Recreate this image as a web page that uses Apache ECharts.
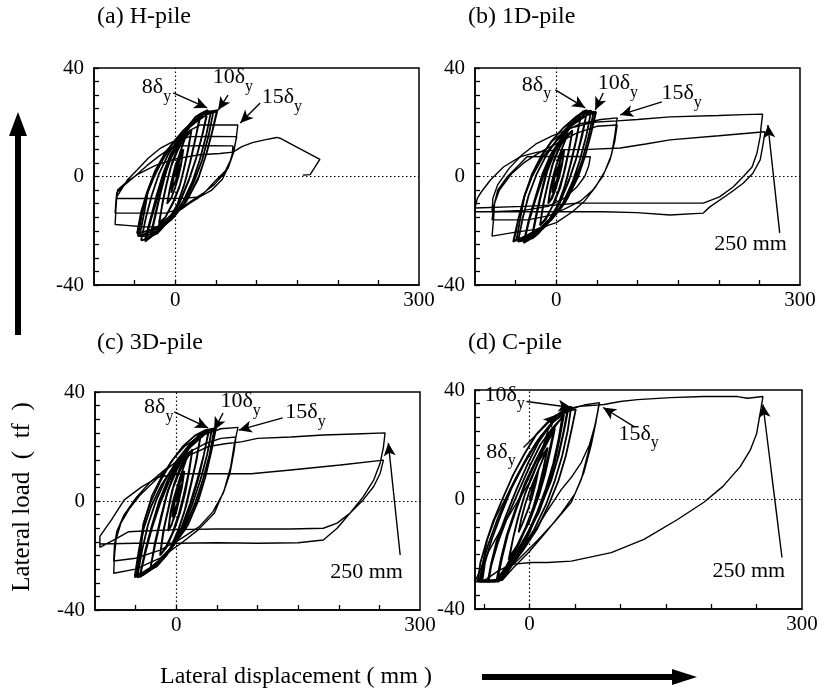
<!DOCTYPE html>
<html>
<head>
<meta charset="utf-8">
<title>Lateral load - lateral displacement</title>
<script src="https://cdn.jsdelivr.net/npm/echarts@6/dist/echarts.min.js"></script>
<style>
  html, body { margin: 0; padding: 0; background: #fff; }
  #chart { width: 823px; height: 695px; }
</style>
</head>
<body>
<div id="chart"></div>
<script>
// ---- tick labels ----
var yTickValues = [-40, -35, -30, -25, -20, -15, -10, -5, 0, 5, 10, 15, 20, 25, 30, 35, 40];
var yLabelValues = [-40, 0, 40];
var xTickValues = [-50, 0, 50, 100, 150, 200, 250];
var xLabelValues = [0, 300];
var panelTitles = ['(a) H-pile', '(b) 1D-pile', '(c) 3D-pile', '(d) C-pile'];
var xMins = [-100, -100, -100, -60];

// ---- (a) H-pile : [displacement mm, load tf] ----
var hSmall = [[0,0],[3,4],[5,6],[3,2],[1,-1],[-3,-4],[-5,-6],[-3,-2],[-1,1],[3,4],[5,6],
  [8,9],[10,10],[7,5],[4,1],[0,-4],[-5,-8],[-10,-10],[-7,-5],[-4,-1],[0,4],[5,8],[10,10],[7,4],[4,0],[0,-4],[-5,-8],[-10,-10],[-7,-5],[-4,-1],[0,3],
  [6,9],[12,14],[20,17],[16,10],[11,3],[6,-3],[-2,-9],[-12,-15],[-20,-18],[-16,-10],[-11,-3],[-6,3],[2,9],[12,15],[20,17],[15,9],[10,2],[5,-4],[-3,-10],[-12,-15],[-20,-17],[-15,-9],[-10,-2],
  [-4,5],[6,13],[18,19],[30,22],[25,14],[19,6],[12,-2],[3,-10],[-10,-17],[-22,-21],[-30,-22],[-24,-14],[-18,-6],[-11,2],[-3,9],[8,15],[20,20],[30,21],[24,13],[18,5],[11,-3],[2,-11],[-10,-17],[-22,-20],[-30,-21],[-23,-12],[-17,-4]];
var hMid = [[-17,-4],[-10,4],[0,10],[12,17],[25,22],[33,23.5],[40,24.5],[33,15],[25,6],[16,-2],[5,-10],[-10,-17],[-25,-21],[-37,-24],[-30,-16],[-22,-8],[-14,0],[-5,7],[8,14],[22,20],[32,23],[40,24],[34,16],[26,7],[17,-1],[6,-9],[-8,-16],[-24,-21],[-37,-23],[-30,-15],[-23,-7],[-15,1],
  [-6,8],[6,14],[20,19],[35,23],[45,24],[52,24.5],[46,17],[39,9],[29,0],[16,-8],[0,-14],[-18,-18],[-33,-20],[-47,-21],[-42,-13],[-35,-6],[-25,2],[-12,9],[5,15],[25,20],[40,23],[51,24],[45,16],[38,8],[28,-1],[14,-9],[-2,-15],[-20,-19],[-35,-21],[-46,-22],[-41,-14],[-34,-6]];
var hMid2 = [[-34,-6],[-26,0],[-16,6],[-4,12],[10,17],[24,21],[36,23.5],[44,24],[38,15],[30,6],[21,-2],[10,-9],[-4,-15],[-20,-20],[-33,-23],[-42,-23.5],[-36,-15],[-29,-7],[-20,1],[-9,8],[4,14],[18,19],[30,22.5],[38,24],[47,24],[41,15],[33,6],[23,-2],[11,-10],[-5,-16],[-22,-20],[-36,-22],[-44,-22],[-38,-13],[-34,-6]];
var hLarge = [[-34,-6],[-25,1],[-12,8],[0,12],[18,17],[31,19],[55,19],[77,19],[75,14],[72,9],[65,3],[59,1.3],[48,-2],[39,-5],[28,-8],[18,-9.8],[8,-12],[-2.5,-13.5],[-12,-16],[-22,-18.6],[-40,-18.5],[-60,-18],[-74,-17.7],[-73,-12],[-72,-7.5],[-70,-7.4],[-59,-1.3],[-47,2.4],[-33,6.8],[-18,10.5],[-4,12.7],[10,14],[18,14.7],[45,14.8],[75.7,14.7],[73,11],[68,6],[60,1],[48,-3],[35,-6],[20,-9],[5,-12],[-12,-13.5],[-40,-13.5],[-74,-13.5],[-73,-9],[-72,-6],[-62,-3],[-50,0],[-35,4],[-20,7.5],[-8,10],[2.5,11.3],[35,11.4],[71,11.3],[70,8],[66,4],[58,-1],[45,-5],[30,-7.5],[10,-8],[-22,-8.1],[-50,-8.1],[-72,-8.1],[-71,-5],[-60,-2],[-45,1],[-25,4],[0,6.5],[30,8],[55,8.5],[71,9]];
var hFinal = [[71,9],[82,11],[95,12.5],[110,13.5],[125,14.4],[130,14],[178,6.3],[166,0.7],[157,0.5]];

// ---- (b) 1D-pile ----
var oneSmall = [[0,0],[3,4],[5,6],[3,2],[1,-1],[-3,-4],[-5,-6],[-3,-2],[-1,1],[3,4],[6,7],[10,10],[7,5],[4,1],[0,-4],[-5,-8],[-10,-10],[-7,-5],[-4,-1],[0,4],[5,8],[10,10],[7,4],[3,-1],[-2,-5],[-6,-8],[-10,-10],[-7,-4],[-3,1],
  [4,8],[12,14],[20,17],[16,10],[11,3],[5,-4],[-3,-10],[-12,-15],[-20,-18],[-16,-10],[-10,-2],[-5,4],[3,10],[12,15],[20,17],[15,9],[9,1],[3,-5],[-5,-11],[-13,-16],[-20,-18],[-15,-9],[-9,-1],
  [-3,6],[7,13],[18,19],[30,22],[25,14],[19,6],[12,-2],[2,-11],[-10,-17],[-22,-21],[-30,-23],[-24,-14],[-18,-6],[-11,2],[-2,9],[9,15],[21,20],[30,22],[24,13],[17,4],[10,-4],[0,-12],[-12,-18],[-23,-21],[-30,-22],[-24,-13],[-17,-4]];
var oneMid = [[-17,-4],[-10,4],[0,11],[12,17],[25,22],[33,24],[38,24.5],[32,15],[24,6],[15,-2],[4,-10],[-10,-17],[-26,-22],[-40,-24.5],[-33,-16],[-25,-8],[-16,0],[-6,7],[7,14],[21,20],[31,23],[38,24],[32,16],[25,7],[16,-1],[5,-9],[-9,-16],[-25,-21],[-40,-24],[-33,-15],[-25,-7],[-17,1],
  [-7,8],[6,14],[20,19],[35,23],[44,23.8],[49,23.8],[43,16],[36,8],[27,0],[14,-8],[-2,-14],[-20,-19],[-38,-22],[-53,-24],[-47,-16],[-40,-8],[-30,0],[-17,7],[0,13],[20,19],[37,22.5],[48,23.5],[42,15],[35,7],[25,-1],[12,-9],[-4,-15],[-22,-20],[-40,-23],[-52,-23.5],[-46,-15],[-39,-7]];
var oneMid2 = [[-39,-7],[-30,0],[-19,7],[-6,13],[9,18],[24,22],[36,24],[43,24.3],[37,15],[29,6],[20,-2],[8,-10],[-7,-16],[-24,-21],[-38,-23.5],[-47,-24],[-41,-15],[-34,-7],[-24,1],[-12,8],[2,14],[17,19.5],[30,23],[40,24],[46,23.8],[40,15],[32,6],[22,-2],[10,-10],[-6,-16],[-24,-21],[-40,-23],[-49,-23.5],[-44,-15],[-39,-7]];
var one15 = [[-39,-7],[-30,1],[-18,8],[-5,13],[12,17],[30,19.5],[55,21],[75,21.6],[72,15],[68,8],[60,2],[48,-4],[35,-9],[20,-13],[0,-17],[-25,-19.5],[-50,-20.5],[-79,-22],[-77,-15],[-76,-10],[-70,-5],[-55,1],[-40,5],[-20,9],[0,12],[25,16],[50,18.5],[75,19],[72,13],[66,6],[57,0],[45,-5],[30,-9],[10,-12],[-10,-14.5],[-35,-16],[-60,-16],[-79,-16],[-77,-11],[-72,-5],[-60,0],[-45,4.5],[-36,7.3],[-10,7.4],[20,7.4],[42,7.3],[40,4],[35,0],[25,-4],[10,-8],[-10,-11],[-40,-12.5],[-79,-13],[-78,-8],[-72,-3],[-58,3],[-42,8],[-25,12],[-5,15],[20,18],[45,20],[75,20.5]];
var oneBig = [[75,20.5],[100,21],[140,22],[200,22.5],[230,22.8],[254,23],[252,18],[251,14.7],[247,8.6],[241,3.5],[230,-0.1],[218,-3.8],[201,-7.5],[181,-9.8],[140,-9.8],[100,-9.8],[60,-9.8],[26,-9.8],[0,-10.5],[-40,-11],[-100,-11.6],[-97,-8],[-93,-6],[-81,-1.3],[-65,3.5],[-44,7.3],[-23,9],[1,9.8],[40,10],[79,10.5],[110,12],[140,13.5],[200,15],[257,16.5],[254,11],[251,6.1],[242,1.2],[230,-2.5],[214,-6.1],[189,-11.2],[181,-13.5],[140,-14.2],[99,-13.3],[58,-13],[13.5,-13],[-40,-13],[-100,-13]];

// ---- (c) 3D-pile ----
var threeSmall = [[0,0],[3,4],[5,6],[3,2],[1,-1],[-3,-4],[-5,-6],[-3,-2],[0,2],[5,7],[10,11],[7,6],[4,1],[0,-4],[-5,-8],[-10,-11],[-7,-5],[-4,-1],[0,4],[5,8],[10,11],[7,5],[3,0],[-2,-5],[-6,-9],[-10,-11],[-7,-4],[-3,1],
  [4,8],[12,15],[20,19],[16,11],[11,3],[5,-4],[-3,-11],[-12,-17],[-20,-20],[-16,-11],[-10,-3],[-5,4],[3,10],[12,16],[20,19],[15,10],[9,2],[3,-5],[-5,-12],[-13,-17],[-20,-20],[-15,-10],[-9,-2],
  [-3,6],[7,14],[18,21],[30,24],[25,15],[19,7],[12,-2],[2,-11],[-10,-19],[-24,-24],[-32,-25],[-26,-16],[-19,-7],[-12,2],[-3,10],[9,17],[21,22],[30,24],[24,14],[17,5],[10,-4],[0,-13],[-12,-20],[-24,-24],[-32,-25],[-26,-15],[-19,-6]];
var threeMid = [[-19,-6],[-10,4],[0,11],[12,18],[25,23],[34,25],[40,26],[34,17],[26,8],[17,-1],[6,-10],[-8,-18],[-26,-24],[-45,-28],[-38,-19],[-30,-10],[-20,-1],[-9,7],[5,15],[20,21],[32,25],[40,25.5],[34,17],[27,8],[18,-1],[7,-10],[-8,-18],[-26,-24],[-45,-27.5],[-38,-18],[-30,-9],[-21,0],
  [-10,8],[4,15],[20,21],[35,25],[44,26.5],[49,26.8],[43,18],[36,9],[27,0],[14,-9],[-3,-16],[-22,-22],[-38,-26],[-51,-28],[-46,-19],[-40,-10],[-31,-2],[-18,6],[-2,13],[18,20],[35,24.5],[48,26],[42,17],[35,8],[25,-1],[12,-10],[-5,-17],[-24,-23],[-40,-26],[-51,-27.5],[-46,-18],[-40,-8]];
var threeMid2 = [[-40,-8],[-31,0],[-20,7],[-7,14],[8,20],[23,24],[36,26],[44,26.5],[38,17],[30,8],[20,-1],[8,-10],[-8,-18],[-25,-24],[-40,-27],[-48,-28],[-42,-18],[-35,-9],[-25,0],[-13,8],[1,15],[17,21],[31,25],[42,26.3],[47,26.5],[41,17],[33,8],[23,-1],[10,-10],[-7,-18],[-25,-24],[-40,-27],[-49,-27.5],[-44,-18],[-40,-8]];
var three15 = [[-40,-8],[-30,2],[-18,9],[-5,15],[10,20],[30,24],[55,26.5],[76,27],[73,23],[71,20],[67,12.5],[59,4],[47,-4.4],[27,-10.6],[6,-15.5],[-20,-21],[-50,-25],[-77,-26.5],[-76,-20],[-74,-14],[-68,-8],[-58,-3],[-45,2],[-28,7],[-10,12],[10,17],[35,21],[55,23],[73.5,23.5],[71,18],[66,10],[58,3],[45,-4],[28,-9.5],[5,-14],[-20,-18],[-50,-21],[-77,-22],[-76,-16],[-73,-11],[-64,-5],[-50,1],[-32,7],[-12,12],[10,16],[40,20],[60,21],[80,21.7]];
var threeBig = [[80,21.7],[100,23],[141,23.5],[181,24.2],[220,24.6],[257,25],[255,19.8],[251,13.9],[243,7.7],[230,1.5],[214,-4.4],[198,-8.1],[181,-10],[140,-10.3],[100,-10.3],[50,-10.3],[0,-10.5],[-40,-11],[-59,-11.3],[-75,-14],[-94,-17],[-94,-13],[-80,-7],[-64,0.4],[-43,5.1],[-22,8.8],[6,10],[50,10],[92,10],[141,11.4],[202,13.2],[255,15],[251,10.2],[243,5.3],[230,0.4],[214,-4.4],[198,-10],[181,-14.3],[150,-15.3],[100,-15.5],[50,-15.3],[0,-15.5],[-50,-15.5],[-94,-15.8]];

// ---- (d) C-pile ----
var cSmall = [[0,0],[5,6],[10,11],[7,6],[3,1],[-2,-4],[-8,-9],[-12,-12],[-9,-7],[-5,-2],[0,3],[5,7],[10,11],
  [15,15],[20,19],[16,12],[12,5],[6,-2],[-2,-9],[-12,-16],[-22,-21],[-18,-14],[-13,-7],[-6,1],[2,8],[10,14],[20,19],[15,11],[10,4],[4,-3],[-4,-10],[-14,-17],[-23,-22],[-18,-14],[-12,-6],
  [-5,2],[5,10],[15,18],[28,26],[23,18],[17,9],[10,1],[0,-8],[-12,-16],[-25,-24],[-35,-29],[-30,-21],[-24,-13],[-15,-4],[-5,5],[6,13],[18,21],[28,27],[22,18],[16,9],[8,0],[-2,-9],[-14,-18],[-26,-25],[-36,-29],[-31,-21],[-25,-13]];
var cMid = [[-25,-13],[-16,-4],[-5,6],[8,15],[22,24],[38,31],[33,22],[28,14],[20,5],[10,-4],[0,-12],[-12,-20],[-25,-27],[-35,-30],[-45,-30],[-42,-24],[-35,-16],[-25,-7],[-12,3],[0,12],[12,20],[25,26],[36,30],[32,22],[26,13],[18,4],[8,-5],[-3,-13],[-15,-21],[-28,-28],[-36,-30],[-46,-30],[-42,-23],[-36,-15],
  [-26,-6],[-14,4],[-2,13],[10,21],[25,28],[40,32],[46,34],[42,25],[36,16],[28,7],[18,-2],[5,-11],[-10,-19],[-25,-26],[-35,-30],[-55,-30],[-52,-24],[-45,-16],[-35,-7],[-22,3],[-8,12],[8,21],[25,28],[40,32],[51,33],[46,25],[40,16],[32,7],[21,-2],[8,-11],[-8,-19],[-24,-26],[-34,-30],[-57,-30],[-54,-23],[-47,-15]];
var cMid2 = [[-47,-15],[-40,-8],[-30,0],[-18,9],[-5,17],[8,24],[22,29],[35,32],[43,33.5],[38,25],[32,16],[24,7],[13,-2],[0,-11],[-14,-19],[-28,-26],[-38,-30],[-52,-30],[-49,-23],[-42,-15],[-32,-6],[-20,4],[-6,13],[8,21],[22,27],[34,31],[42,33],[37,24],[30,14],[21,5],[10,-5],[-3,-13],[-17,-21],[-30,-28],[-40,-30],[-54,-30],[-51,-23],[-47,-15]];
var c15 = [[-47,-15],[-38,-7],[-27,0],[-15,8],[-2,16],[12,23],[28,29],[45,33],[60,34.5],[77,35.4],[75,31.6],[71,25.5],[64.5,17],[57,7.3],[46,-1],[27,-8.4],[9.8,-14.6],[-8.8,-20.8],[-27,-26.7],[-34,-29.2],[-45,-30],[-60,-30],
  [-45,-29.5],[-30,-29],[-14,-21],[2,-13.5],[18,-5],[35,3.6],[47,8.5],[57,13.5],[66,20],[72,27],[75,32],[76,34],[73,28],[68,20],[60,10],[50,2],[35,-5],[18,-12],[0,-19],[-18,-25],[-30,-29.5],[-50,-30],[-60,-30]];
var cFinal = [[-60,-30],[-56,-27],[-45,-19],[-35,-13],[-27,-8.4],[-12,0],[2,7.3],[12,16],[20.5,25.5],[30,30.5],[38,33],[55,34],[75,34.5],[82,34.7],[100,35.8],[119,36.5],[155,37.2],[192,37.6],[229,37.6],[240,37],[257,37.6],
  [254,31.6],[250,24],[243,18],[232,12],[213,4.8],[192,-1],[163,-7.3],[126,-14.6],[90,-19.4],[46,-22.5],[20,-23],[2,-23],[-20,-23.7],[-34,-26],[-47,-29],[-55,-30]];

// small and mid cycles first (drawn bolder), then the wide cycles
var panelCurves = [
  [hSmall, hMid, hMid2, hLarge, hFinal],
  [oneSmall, oneMid, oneMid2, one15, oneBig],
  [threeSmall, threeMid, threeMid2, three15, threeBig],
  [cSmall, cMid, cMid2, c15, cFinal]
];

// annotation texts (sub = δ with subscript y) and arrows, in data units
var panelNotes = [
  [{text: '8', sub: true, at: [-40.6, 36.7]}, {text: '10', sub: true, at: [46.7, 40.4]}, {text: '15', sub: true, at: [107, 33]}],
  [{text: '8', sub: true, at: [-41.8, 37.5]}, {text: '10', sub: true, at: [51.6, 38.2]}, {text: '15', sub: true, at: [130, 34.5]}, {text: '250 mm', sub: false, at: [195, -21.2]}],
  [{text: '8', sub: true, at: [-39, 38.2]}, {text: '10', sub: true, at: [55, 40.4]}, {text: '15', sub: true, at: [134.8, 36.4]}, {text: '250 mm', sub: false, at: [190, -22.4]}],
  [{text: '10', sub: true, at: [-49, 42]}, {text: '8', sub: true, at: [-47, 21.2]}, {text: '15', sub: true, at: [98.5, 27.8]}, {text: '250 mm', sub: false, at: [202, -22.2]}]
];
var panelArrows = [
  [[[-2.5, 30.8], [39.3, 25.3]], [[65, 30], [52.8, 24.5]], [[104.5, 27.1], [80, 19.7]]],
  [[[-1.2, 31.9], [35.6, 25.3]], [[57.8, 30.8], [48, 24.5]], [[130, 27.5], [78.7, 22.7]], [[275, -20.8], [260.5, 19]]],
  [[[-2.5, 32.7], [39.2, 26.8]], [[57.6, 32.3], [46.6, 26]], [[131, 30.5], [77, 26]], [[275.6, -19.8], [261, 21.3]]],
  [[[-3.3, 35.8], [46, 33.6]], [[-6.6, 19], [29.5, 31]], [[115, 26.6], [81, 33.6]], [[278, -21.2], [257, 34.7]]]
];

var FONT = "'Liberation Serif', 'DejaVu Serif', serif";
var grids = [
  {left: 94, top: 68, width: 325, height: 217},
  {left: 475, top: 68, width: 325, height: 217},
  {left: 95, top: 392, width: 325, height: 218},
  {left: 475, top: 390, width: 327, height: 219}
];
var titlePos = [[97, 17], [468, 17], [97, 343], [468, 343]];

var xAxes = [], yAxes = [], series = [];
grids.forEach(function (g, i) {
  g.show = true;
  g.borderColor = '#000';
  g.borderWidth = 1.5;
  g.containLabel = false;
  xAxes.push({
    gridIndex: i, type: 'value', min: xMins[i], max: 300,
    axisLine: {show: true, onZero: false, lineStyle: {color: '#000', width: 1.5}},
    axisTick: {show: true, inside: true, length: 5, customValues: xTickValues, lineStyle: {color: '#000', width: 1.3}},
    axisLabel: {show: true, customValues: xLabelValues, margin: 5, color: '#000', fontSize: 21, fontFamily: FONT},
    splitLine: {show: false}
  });
  yAxes.push({
    gridIndex: i, type: 'value', min: -40, max: 40,
    axisLine: {show: true, onZero: false, lineStyle: {color: '#000', width: 1.5}},
    axisTick: {show: true, inside: true, length: 5, customValues: yTickValues, lineStyle: {color: '#000', width: 1.3}},
    axisLabel: {show: true, customValues: yLabelValues, margin: 10, color: '#000', fontSize: 21, fontFamily: FONT},
    splitLine: {show: false}
  });

  panelCurves[i].forEach(function (d, k) {
    var s = {
      type: 'line', xAxisIndex: i, yAxisIndex: i, data: d,
      symbol: 'none', silent: true, clip: true,
      lineStyle: {color: '#000', width: k < 3 ? 1.8 : 1.4}
    };
    if (k === 0) {
      s.markLine = {
        silent: true, symbol: 'none', label: {show: false},
        lineStyle: {color: '#000', width: 1.2, type: [1.5, 2.5]},
        data: [{xAxis: 0}, {yAxis: 0}]
      };
    }
    series.push(s);
  });

  series.push({
    type: 'scatter', xAxisIndex: i, yAxisIndex: i, silent: true, clip: false,
    symbolSize: 1, itemStyle: {color: '#000', opacity: 0},
    data: panelNotes[i].map(function (n) { return {value: n.at, name: n.text, sub: n.sub}; }),
    label: {
      show: true, position: [0, 0], align: 'left', verticalAlign: 'top',
      color: '#000', opacity: 1, textBorderWidth: 0,
      formatter: function (p) {
        return p.data.sub ? '{n|' + p.name + 'δ}{s|y}' : '{n|' + p.name + '}';
      },
      rich: {
        n: {fontFamily: FONT, fontSize: 22, color: '#000', lineHeight: 24, verticalAlign: 'top'},
        s: {fontFamily: FONT, fontSize: 16, color: '#000', lineHeight: 16, padding: [12, 0, 0, 0], verticalAlign: 'top'}
      }
    },
    markLine: {
      silent: true, symbol: ['none', 'arrow'], symbolSize: [9, 13],
      label: {show: false},
      lineStyle: {color: '#000', width: 1.4, type: 'solid', opacity: 1},
      data: panelArrows[i].map(function (a) { return [{coord: a[0]}, {coord: a[1]}]; })
    }
  });
});

var graphics = panelTitles.map(function (t, i) {
  return {
    type: 'text', x: titlePos[i][0], y: titlePos[i][1],
    style: {text: t, fontSize: 24, fontFamily: FONT, fill: '#000', align: 'left', verticalAlign: 'middle'}
  };
});
graphics.push({
  type: 'text', x: 22, y: 497, rotation: Math.PI / 2,
  style: {text: 'Lateral load  (  tf  )', fontSize: 25, fontFamily: FONT, fill: '#000', align: 'center', verticalAlign: 'middle'}
});
graphics.push({
  type: 'text', x: 160, y: 677,
  style: {text: 'Lateral displacement ( mm )', fontSize: 24, fontFamily: FONT, fill: '#000', align: 'left', verticalAlign: 'middle'}
});
graphics.push({
  type: 'polygon',
  shape: {points: [[15, 335], [21, 335], [21, 136], [27, 136], [18, 112], [9, 136], [15, 136]]},
  style: {fill: '#000'}
});
graphics.push({
  type: 'polygon',
  shape: {points: [[482, 674], [672, 674], [672, 669], [697, 677], [672, 685], [672, 680], [482, 680]]},
  style: {fill: '#000'}
});

var chart = echarts.init(document.getElementById('chart'));
chart.setOption({
  animation: false,
  backgroundColor: '#fff',
  grid: grids,
  xAxis: xAxes,
  yAxis: yAxes,
  series: series,
  graphic: graphics
});
</script>
</body>
</html>
